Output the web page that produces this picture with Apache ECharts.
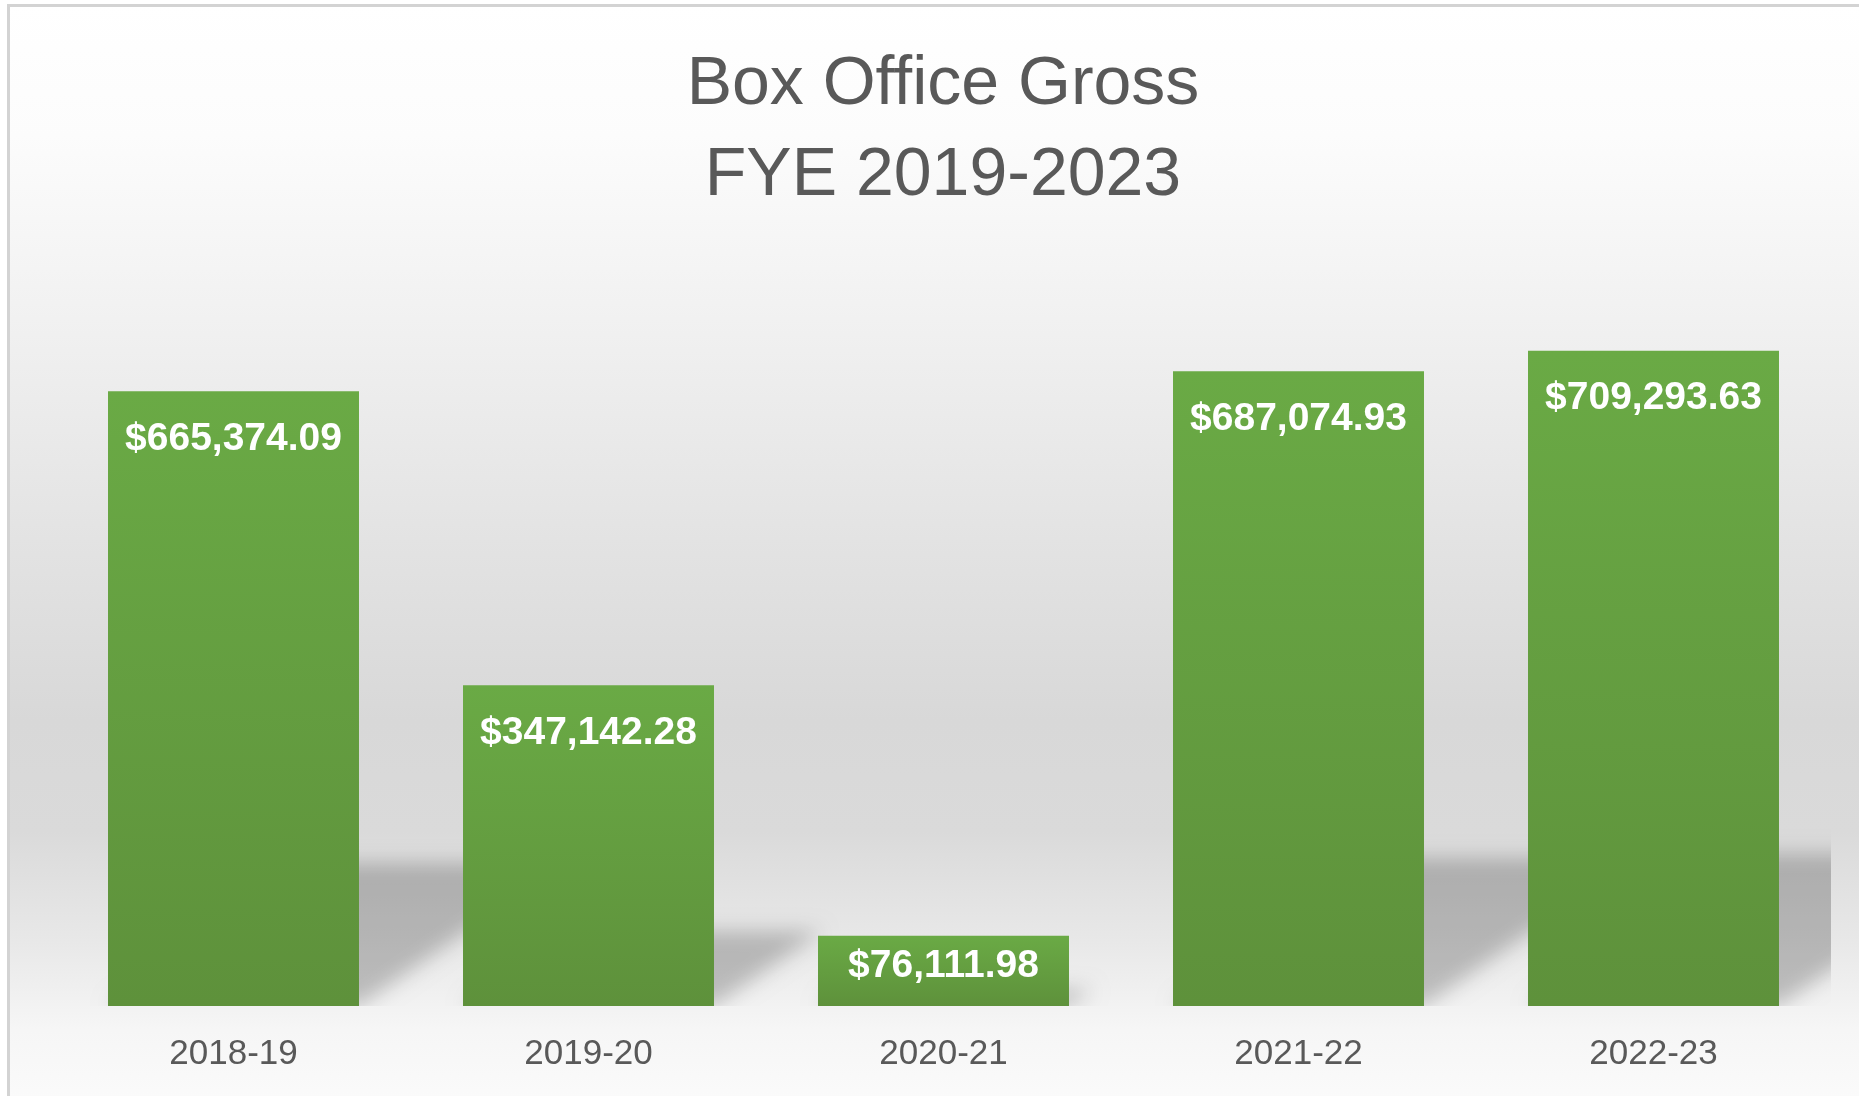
<!DOCTYPE html>
<html>
<head>
<meta charset="utf-8">
<title>Box Office Gross</title>
<script src="https://cdn.jsdelivr.net/npm/echarts@6/dist/echarts.min.js"></script>
<style>
  html, body { margin: 0; padding: 0; background: #fff; }
  #chart { width: 1859px; height: 1096px; }
</style>
</head>
<body>
<div id="chart"></div>
<script>
// data
var years = ['2018-19', '2019-20', '2020-21', '2021-22', '2022-23'];
var gross = [665374.09, 347142.28, 76111.98, 687074.93, 709293.63];
var titleLines = ['Box Office Gross', 'FYE 2019-2023'];

var BAR_GAP = 0.293;     // barCategoryGap as a fraction
var OFF = 4000;          // shadow-only trick: shape drawn off canvas

function money(v) {
    return '$' + v.toLocaleString('en-US', {minimumFractionDigits: 2, maximumFractionDigits: 2});
}

var chart = echarts.init(document.getElementById('chart'));

// short bars get their label centered, like excel does
var barData = gross.map(function (v) {
    if (v < 100000) {
        return {value: v, label: {position: 'inside', offset: [0, -5]}};
    }
    return v;
});

var option = {
    animation: false,
    graphic: [
        {
            type: 'rect',
            z: -10,
            shape: {x: 8.5, y: 5.5, width: 1900, height: 1100},
            style: {
                stroke: '#d3d3d3',
                lineWidth: 3,
                fill: new echarts.graphic.LinearGradient(0, 0, 0, 1, [
                    {offset: 0, color: '#ffffff'},
                    {offset: 0.12, color: '#fcfcfc'},
                    {offset: 0.3, color: '#f0f0f0'},
                    {offset: 0.5, color: '#e2e2e2'},
                    {offset: 0.65, color: '#d8d8d8'},
                    {offset: 0.75, color: '#dadada'},
                    {offset: 0.85, color: '#e8e8e8'},
                    {offset: 0.93, color: '#f6f6f6'},
                    {offset: 1, color: '#fbfbfb'}
                ])
            }
        },
        {
            type: 'text',
            x: 943, y: 85,
            style: {
                text: titleLines[0],
                textAlign: 'center', textVerticalAlign: 'middle',
                font: '68px "Liberation Sans", Arial, sans-serif',
                fill: '#595959'
            }
        },
        {
            type: 'text',
            x: 943, y: 176,
            style: {
                text: titleLines[1],
                textAlign: 'center', textVerticalAlign: 'middle',
                font: '68px "Liberation Sans", Arial, sans-serif',
                fill: '#595959'
            }
        }
    ],
    grid: {
        left: 56,
        right: 28,
        top: 267,
        bottom: 90
    },
    xAxis: {
        type: 'category',
        data: years,
        axisLine: {show: false},
        axisTick: {show: false},
        axisLabel: {
            fontFamily: '"Liberation Sans", Arial, sans-serif',
            fontSize: 35,
            color: '#595959',
            margin: 31
        }
    },
    yAxis: {
        type: 'value',
        min: 0,
        max: 800000,
        show: false,
        splitLine: {show: false}
    },
    series: [
        {
            // perspective shadow behind each bar
            type: 'custom',
            clip: true,
            z: 1,
            silent: true,
            data: gross.map(function (v, i) { return [i, v]; }),
            renderItem: function (params, api) {
                var base = api.coord([api.value(0), 0]);
                var top = api.coord([api.value(0), api.value(1)]);
                var w = api.size([1, 0])[0] * (1 - BAR_GAP);
                var h = base[1] - top[1];
                var hs = h * 0.233;
                var dx = hs * 1.44;
                var x0 = base[0] - w / 2, x1 = base[0] + w / 2, yb = base[1];
                return {
                    type: 'polygon',
                    shape: {
                        points: [
                            [x0 - OFF, yb], [x1 - OFF, yb],
                            [x1 + dx - OFF, yb - hs], [x0 + dx - OFF, yb - hs]
                        ]
                    },
                    style: {
                        fill: '#000',
                        shadowColor: 'rgba(0,0,0,0.22)',
                        shadowBlur: 20,
                        shadowOffsetX: OFF,
                        shadowOffsetY: 0
                    }
                };
            }
        },
        {
            type: 'bar',
            z: 3,
            barCategoryGap: (BAR_GAP * 100) + '%',
            data: barData,
            itemStyle: {
                color: new echarts.graphic.LinearGradient(0, 0, 0, 1, [
                    {offset: 0, color: '#6aaa45'},
                    {offset: 1, color: '#5e913b'}
                ])
            },
            label: {
                show: true,
                position: 'insideTop',
                distance: 28,
                color: '#ffffff',
                fontFamily: '"Liberation Sans", Arial, sans-serif',
                fontWeight: 'bold',
                fontSize: 39,
                formatter: function (p) { return money(p.value); }
            }
        }
    ]
};

chart.setOption(option);
</script>
</body>
</html>
